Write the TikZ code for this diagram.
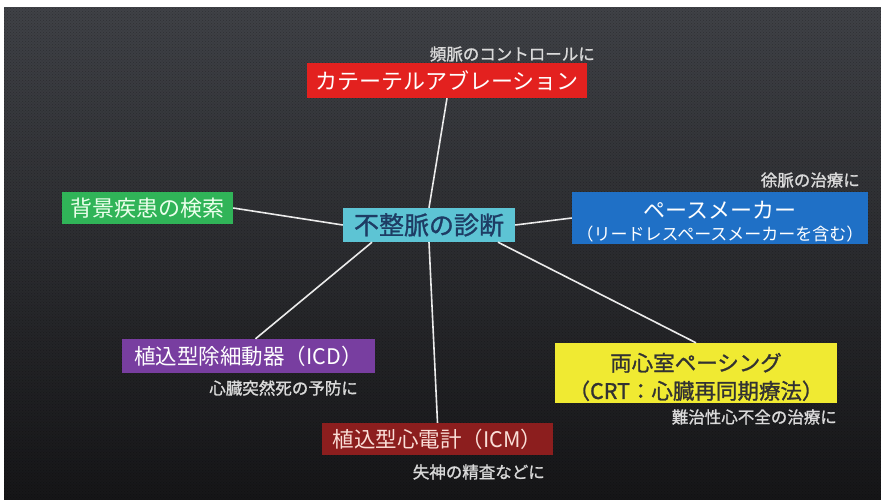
\documentclass[tikz,border=0pt]{standalone}
\usepackage{fontspec}
\setmainfont{Noto Sans CJK JP}
\newfontfamily\jpbold[FakeBold=1.2]{Noto Sans CJK JP}
\usetikzlibrary{patterns}
\definecolor{bgtop}{RGB}{64,66,71}
\definecolor{bgbot}{RGB}{22,22,24}
\definecolor{cred}{RGB}{227,33,31}
\definecolor{cgreen}{RGB}{48,180,88}
\definecolor{ccyan}{RGB}{93,196,212}
\definecolor{ccentxt}{RGB}{30,60,100}
\definecolor{cblue}{RGB}{31,112,198}
\definecolor{cpurple}{RGB}{120,62,160}
\definecolor{cyellow}{RGB}{240,234,50}
\definecolor{cyeltxt}{RGB}{50,50,50}
\definecolor{cdred}{RGB}{140,30,30}
\definecolor{cdredtxt}{RGB}{250,222,215}
\definecolor{cnote}{RGB}{218,218,218}
\definecolor{cline}{RGB}{235,235,235}
\begin{document}
\begin{tikzpicture}[x=1pt,y=-1pt,
  box/.style={rectangle,inner sep=0pt,align=center},
  note/.style={anchor=east,inner sep=0pt,text=cnote,font=\jpbold\fontsize{16.5}{18}\selectfont},
  link/.style={draw=cline,line width=1.6pt}]
\useasboundingbox (0,0) rectangle (881,499);
\fill[white] (0,0) rectangle (881,499);
\shade[top color=bgtop,bottom color=bgbot] (4,7) rectangle (881,499);
\fill[pattern=crosshatch dots,pattern color=black,opacity=0.25] (4,7) rectangle (881,499);

\node[box,fill=cred,text=white,minimum width=280pt,minimum height=35pt,
  font=\fontsize{22}{24}\selectfont] (abl) at (447,80.5) {カテーテルアブレーション};
\node[box,fill=cgreen,text=white!92!green,minimum width=171pt,minimum height=32pt,
  font=\fontsize{22}{24}\selectfont] (bg) at (147.5,208) {背景疾患の検索};
\node[box,fill=ccyan,text=ccentxt,minimum width=172pt,minimum height=34pt,
  font=\jpbold\fontsize{25}{28}\selectfont] (cen) at (429,225) {不整脈の診断};
\node[box,fill=cblue,text=white,minimum width=296pt,minimum height=52pt] (pm) at (720,218)
  {\rule{0pt}{24pt}{\fontsize{22}{22}\selectfont ペースメーカー}\\[6pt]{\fontsize{17}{17}\selectfont （リードレスペースメーカーを含む）}};
\node[box,fill=cpurple,text=white,minimum width=253pt,minimum height=34pt,
  font=\fontsize{21.5}{24}\selectfont] (icd) at (248.5,356) {植込型除細動器（ICD）};
\node[box,fill=cyellow,text=cyeltxt,minimum width=282pt,minimum height=60pt,
  font=\jpbold\fontsize{21.5}{28}\selectfont] (crt) at (696,373) {\rule{0pt}{26pt}両心室ペーシング\\（CRT：心臓再同期療法）};
\node[box,fill=cdred,text=cdredtxt,minimum width=231pt,minimum height=32pt,
  font=\fontsize{21.5}{24}\selectfont] (icm) at (437.5,439) {植込型心電計（ICM）};

\node[note] (n1) at (595,54) {頻脈のコントロールに};
\node[note] (n2) at (860,180) {徐脈の治療に};
\node[note] (n3) at (358,388) {心臓突然死の予防に};
\node[note] (n4) at (837,417) {難治性心不全の治療に};
\node[note] (n5) at (545,472) {失神の精査などに};

\draw[link] (cen.north) -- (abl.south);
\draw[link] (cen.west) -- (bg.east);
\draw[link] (cen.east) -- (pm.west);
\draw[link] ([xshift=-57pt]cen.south) -- ([xshift=7pt]icd.north);
\draw[link] (cen.south) -- (icm.north);
\draw[link] ([xshift=69pt]cen.south) -- (crt.north);
\end{tikzpicture}
\end{document}
